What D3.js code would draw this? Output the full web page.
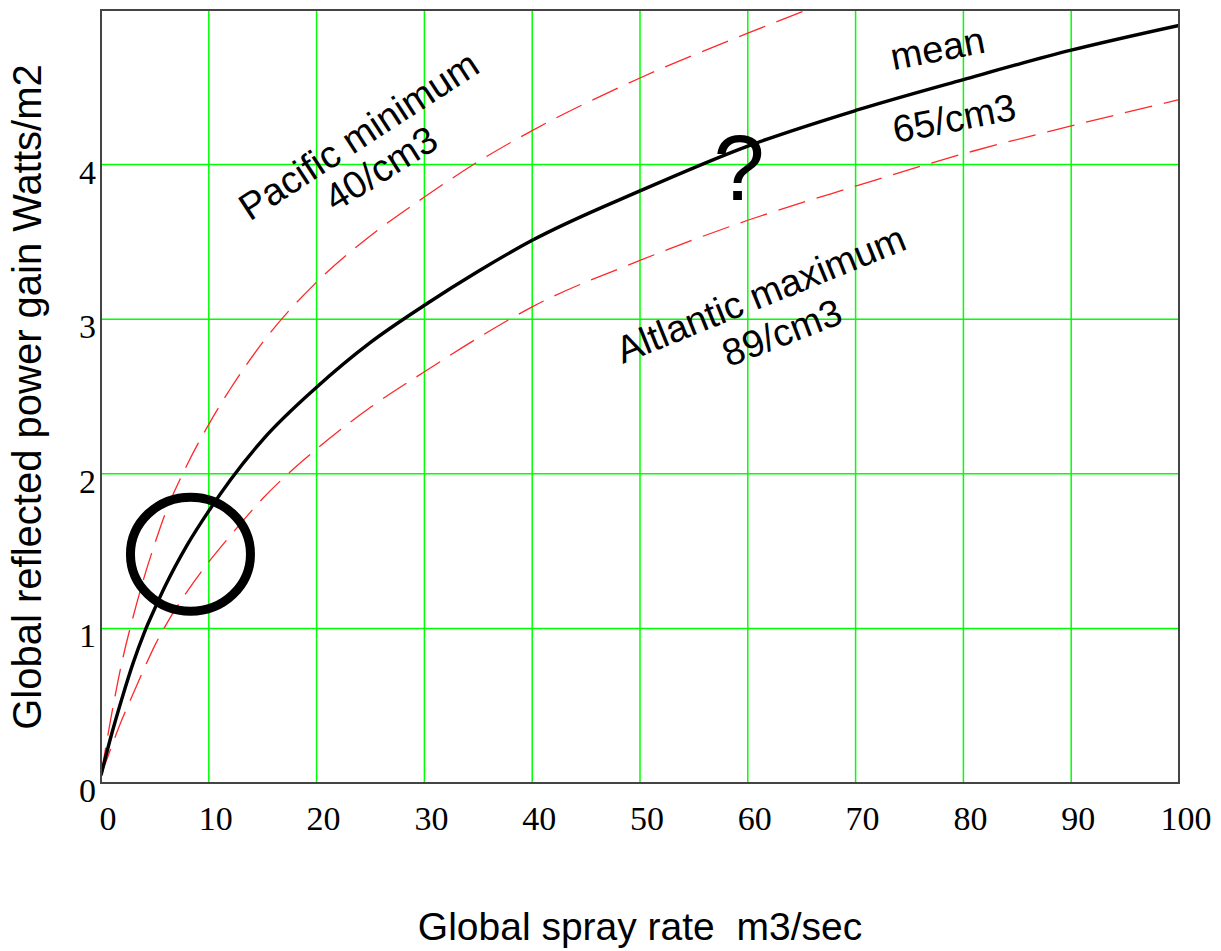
<!DOCTYPE html>
<html lang="en">
<head>
<meta charset="utf-8">
<title>Global spray rate vs reflected power gain</title>
<script src="https://d3js.org/d3.v7.min.js"></script>
<style>
  body { margin: 0; background: #fff; }
  svg { display: block; }
</style>
</head>
<body>
<script>
// values
var sprayRate = [0, 1, 2, 3, 4, 5, 6, 8, 10, 12, 15, 20, 25, 30, 35, 40, 50, 60, 70, 80, 90, 100];
var meanGain  = [0.05, 0.32, 0.56, 0.78, 0.97, 1.13, 1.28, 1.54, 1.76, 1.96, 2.22, 2.56, 2.85, 3.09, 3.31, 3.51, 3.83, 4.12, 4.35, 4.55, 4.74, 4.90];
var pacificGain = [0.05, 0.45, 0.80, 1.08, 1.33, 1.55, 1.75, 2.06, 2.32, 2.55, 2.85, 3.24, 3.54, 3.79, 4.02, 4.22, 4.56, 4.85, 5.12, 5.36, 5.58, 5.78];
var atlanticGain = [0.05, 0.24, 0.42, 0.58, 0.74, 0.89, 1.02, 1.24, 1.43, 1.60, 1.84, 2.16, 2.43, 2.66, 2.88, 3.08, 3.38, 3.64, 3.86, 4.07, 4.25, 4.42];
var xTicks = [0, 10, 20, 30, 40, 50, 60, 70, 80, 90, 100];
var yTicks = [0, 1, 2, 3, 4];

var width = 1221, height = 951;
var plotL = 101, plotR = 1179, plotT = 10, plotB = 783;

var x = d3.scaleLinear().domain([0, 100]).range([plotL, plotR]);
var y = d3.scaleLinear().domain([0, 5]).range([plotB, plotT]);

var svg = d3.select("body").append("svg")
    .attr("width", width)
    .attr("height", height);

svg.append("rect").attr("width", width).attr("height", height).attr("fill", "#fff");

svg.append("clipPath").attr("id", "plot")
  .append("rect")
    .attr("x", plotL).attr("y", plotT)
    .attr("width", plotR - plotL).attr("height", plotB - plotT);

// grid
svg.append("g")
  .selectAll("line")
  .data(xTicks.filter(function(d) { return d > 0 && d < 100; }))
  .enter().append("line")
    .attr("x1", function(d) { return x(d); })
    .attr("x2", function(d) { return x(d); })
    .attr("y1", plotT).attr("y2", plotB)
    .attr("stroke", "#00ff00").attr("stroke-width", 1.5);

svg.append("g")
  .selectAll("line")
  .data(yTicks.filter(function(d) { return d > 0; }))
  .enter().append("line")
    .attr("y1", function(d) { return y(d); })
    .attr("y2", function(d) { return y(d); })
    .attr("x1", plotL).attr("x2", plotR)
    .attr("stroke", "#00ff00").attr("stroke-width", 1.5);

// curves
var line = d3.line()
    .x(function(d) { return x(d[0]); })
    .y(function(d) { return y(d[1]); })
    .curve(d3.curveMonotoneX);

var curves = svg.append("g").attr("clip-path", "url(#plot)");

curves.append("path")
    .attr("d", line(d3.zip(sprayRate, pacificGain)))
    .attr("fill", "none").attr("stroke", "#ff2828")
    .attr("stroke-width", 1.3).attr("stroke-dasharray", "28,12");

curves.append("path")
    .attr("d", line(d3.zip(sprayRate, atlanticGain)))
    .attr("fill", "none").attr("stroke", "#ff2828")
    .attr("stroke-width", 1.3).attr("stroke-dasharray", "28,12");

curves.append("path")
    .attr("d", line(d3.zip(sprayRate, meanGain)))
    .attr("fill", "none").attr("stroke", "#000")
    .attr("stroke-width", 3.4);

// frame
svg.append("rect")
    .attr("x", plotL).attr("y", plotT)
    .attr("width", plotR - plotL).attr("height", plotB - plotT)
    .attr("fill", "none").attr("stroke", "#444").attr("stroke-width", 2);

// tick labels
svg.append("g")
  .selectAll("text")
  .data(xTicks)
  .enter().append("text")
    .attr("x", function(d) { return x(d) + 7; })
    .attr("y", 830)
    .attr("text-anchor", "middle")
    .attr("font-family", "Liberation Serif, Times New Roman, serif")
    .attr("font-size", 34)
    .text(function(d) { return d; });

svg.append("g")
  .selectAll("text")
  .data(yTicks)
  .enter().append("text")
    .attr("x", 96)
    .attr("y", function(d) { return y(d) + 7; })
    .attr("dy", "0.35em")
    .attr("text-anchor", "end")
    .attr("font-family", "Liberation Serif, Times New Roman, serif")
    .attr("font-size", 34)
    .text(function(d) { return d; });

// axis titles
svg.append("text")
    .attr("x", 640).attr("y", 940)
    .attr("text-anchor", "middle")
    .attr("font-family", "Liberation Sans, Arial, sans-serif")
    .attr("font-size", 39)
    .attr("xml:space", "preserve")
    .text("Global spray rate  m3/sec");

svg.append("text")
    .attr("transform", "translate(41,397) rotate(-90)")
    .attr("text-anchor", "middle")
    .attr("font-family", "Liberation Sans, Arial, sans-serif")
    .attr("font-size", 40)
    .text("Global reflected power gain Watts/m2");

// curve annotations
var notes = [
  { text: "Pacific minimum", at: [13.8, 3.63], angle: -33 },
  { text: "40/cm3", at: [21.7, 3.69], angle: -32 },
  { text: "mean", at: [73.5, 4.61], angle: -11 },
  { text: "65/cm3", at: [73.7, 4.14], angle: -11 },
  { text: "Altlantic maximum", at: [48.4, 2.71], angle: -22 },
  { text: "89/cm3", at: [58.2, 2.69], angle: -21 }
];

svg.append("g")
  .selectAll("text")
  .data(notes)
  .enter().append("text")
    .attr("transform", function(d) {
      return "translate(" + x(d.at[0]) + "," + y(d.at[1]) + ") rotate(" + d.angle + ")";
    })
    .attr("font-family", "Liberation Sans, Arial, sans-serif")
    .attr("font-size", 38)
    .text(function(d) { return d.text; });

svg.append("text")
    .attr("x", x(59.2)).attr("y", y(3.77))
    .attr("text-anchor", "middle")
    .attr("font-family", "Liberation Sans, Arial, sans-serif")
    .attr("font-size", 92)
    .text("?");

svg.append("ellipse")
    .attr("cx", x(8.3)).attr("cy", y(1.48))
    .attr("rx", 60).attr("ry", 57)
    .attr("fill", "none").attr("stroke", "#000").attr("stroke-width", 9);
</script>
</body>
</html>
